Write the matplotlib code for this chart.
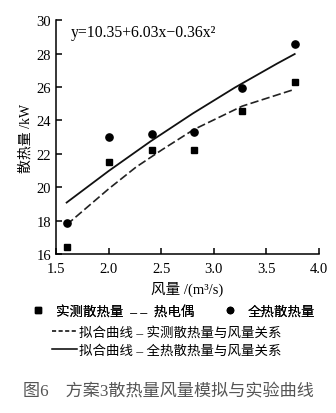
import numpy as np
import matplotlib.pyplot as plt
from matplotlib.lines import Line2D

plt.rcParams['font.family'] = ['Liberation Serif', 'Noto Sans CJK SC', 'DejaVu Sans']

# measured heat (thermocouple) - squares
x_meas = [1.6, 2.0, 2.41, 2.81, 3.27, 3.77]
y_meas = [16.45, 21.5, 22.25, 22.25, 24.55, 26.3]
# total heat - circles
x_tot = [1.6, 2.0, 2.41, 2.81, 3.27, 3.77]
y_tot = [17.85, 23.0, 23.2, 23.3, 25.95, 28.55]

# fitted curves
x_fit_tot = [1.6, 2.0, 2.4, 2.8, 3.2, 3.6, 3.77]
y_fit_tot = [19.08, 20.97, 22.75, 24.41, 25.96, 27.39, 27.97]
x_fit_meas = [1.6, 2.0, 2.26, 2.51, 2.81, 3.27, 3.77]
y_fit_meas = [17.75, 19.9, 21.2, 22.25, 23.45, 24.85, 25.86]

xticks = [1.5, 2.0, 2.5, 3.0, 3.5, 4.0]
yticks = [16, 18, 20, 22, 24, 26, 28, 30]

fig = plt.figure(figsize=(3.36, 4.14), dpi=100)
ax = fig.add_axes([0.167, 0.384, 0.782, 0.565])

ax.plot(x_fit_meas, y_fit_meas, ls=(0, (5, 2)), color='#222222', lw=1.2)
ax.plot(x_fit_tot, y_fit_tot, ls='-', color='#111111', lw=1.3)
ax.plot(x_meas, y_meas, 's', color='black', ms=4.8, ls='none')
ax.plot(x_tot, y_tot, 'o', color='black', ms=5.2, ls='none')

ax.set_xlim(1.5, 4.0)
ax.set_ylim(16, 30)
ax.set_xticks(xticks)
ax.set_xticklabels(['%.1f' % v for v in xticks])
ax.set_yticks(yticks)
ax.spines['top'].set_visible(False)
ax.spines['right'].set_visible(False)
for s in ['left', 'bottom']:
    ax.spines[s].set_linewidth(1.1)
ax.tick_params(direction='in', length=4, width=1.1, labelsize=10.5)
ax.tick_params(axis='x', pad=6)
ax.tick_params(axis='y', pad=3.5)

ax.text(0.055, 0.985, 'y=10.35+6.03x\u22120.36x\u00b2', transform=ax.transAxes,
        fontsize=11.3, va='top', ha='left')

ax.set_ylabel('散热量 /kW', fontsize=10, labelpad=3)
ax.set_xlabel('风量 /(m\u00b3/s)', fontsize=10.5, labelpad=4)

h1 = [Line2D([], [], marker='s', color='black', ms=4.3, ls='none'),
      Line2D([], [], marker='o', color='black', ms=4.5, ls='none')]
leg1 = fig.legend(h1, ['实测散热量  \u2013 \u2013  热电偶', '全热散热量'], ncol=2,
                  loc='center', bbox_to_anchor=(0.516, 0.246), frameon=False,
                  fontsize=9.7, columnspacing=2.15, handletextpad=0.8,
                  handlelength=1.0, borderpad=0)
fig.add_artist(leg1)

h2 = [Line2D([], [], ls=(0, (2.7, 1.6)), color='black', lw=1.1),
      Line2D([], [], ls='-', color='black', lw=1.1)]
fig.legend(h2, ['拟合曲线 \u2013 实测散热量与风量关系', '拟合曲线 \u2013 全热散热量与风量关系'],
           loc='center', bbox_to_anchor=(0.496, 0.173), frameon=False,
           fontsize=9.7, handlelength=1.85, handletextpad=0.15,
           labelspacing=0.35, borderpad=0)

fig.text(0.5, 0.053, '图6    方案3散热量风量模拟与实验曲线', ha='center', va='center',
         fontsize=12.3, color='#555555')

fig.savefig('out.png', dpi=100)
